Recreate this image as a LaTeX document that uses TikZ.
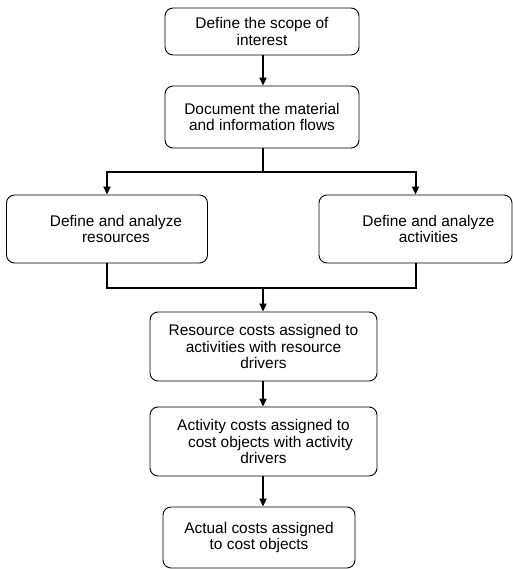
\documentclass[tikz,border=0pt]{standalone}
\usepackage{fontspec}
\setmainfont{Liberation Sans}
\usetikzlibrary{arrows.meta}
\begin{document}
\begin{tikzpicture}[x=1bp,y=-1bp,
    box/.style={draw, line width=0.9bp, rounded corners=8bp, align=center,
      inner sep=0pt, font=\fontsize{15.5}{17}\selectfont},
    conn/.style={line width=2bp},
    arr/.style={line width=2bp, -{Triangle[width=7bp,length=8bp]}}]
      \useasboundingbox (0,0) rectangle (513,569);
      % Place the nodes
      \node[box, minimum width=194bp, minimum height=47bp] (scope) at (262,31.5)
        {Define the scope of\\interest};
      \node[box, minimum width=194bp, minimum height=62bp] (flows) at (262,117)
        {Document the material\\and information flows};
      \node[box, minimum width=201bp, minimum height=68bp] (res) at (107,229)
        {\hspace*{18bp}Define and analyze\\\hspace*{18bp}resources};
      \node[box, minimum width=193bp, minimum height=68bp] (act) at (415.5,229)
        {\hspace*{26bp}Define and analyze\\\hspace*{26bp}activities};
      \node[box, minimum width=227bp, minimum height=69bp] (rc) at (263.5,346.5)
        {Resource costs assigned to\\activities with resource\\drivers};
      \node[box, minimum width=227bp, minimum height=69bp] (ac) at (263.5,441.5)
        {Activity costs assigned to\\\hspace*{14bp}cost objects with activity\\drivers};
      \node[box, minimum width=192bp, minimum height=61bp] (actual) at (259,537.5)
        {Actual costs assigned\\to cost objects};
      \coordinate (split) at (263,172);
      \coordinate (merge) at (263,288);
      % Draw arrows down the chain
      \draw[arr] (scope.south -| split) -- (flows.north -| split);
      \draw[conn] (flows.south -| split) -- (split);
      \draw[arr] (split) -| (res.north);
      \draw[arr] (split) -| (act.north);
      \draw[conn] (res.south) |- (merge) -| (act.south);
      \draw[arr] (merge) -- (rc.north -| merge);
      \draw[arr] (rc.south -| merge) -- (ac.north -| merge);
      \draw[arr] (ac.south -| merge) -- (actual.north -| merge);
    \end{tikzpicture}
\end{document}
